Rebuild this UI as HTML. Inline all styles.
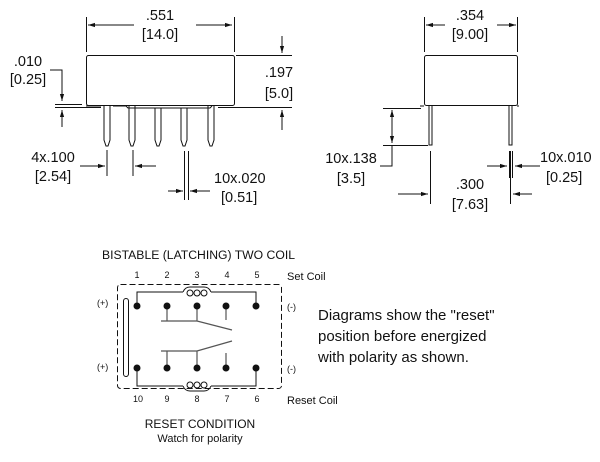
<!DOCTYPE html>
<html><head><meta charset="utf-8"><style>
html,body{margin:0;padding:0;background:#fff;width:600px;height:462px;overflow:hidden}
svg{display:block}
text{font-family:"Liberation Sans",Arial,sans-serif;fill:#111}
</style></head><body>
<svg width="600" height="462" viewBox="0 0 600 462" xmlns="http://www.w3.org/2000/svg">
<defs>
<marker id="a" viewBox="0 0 10 10" refX="10" refY="5" markerWidth="7" markerHeight="7" orient="auto-start-reverse"><path d="M0,2 L10,5 L0,8z" fill="#111"/></marker>
</defs>
<g stroke="#111" stroke-width="1" fill="none">
<rect x="86.5" y="55.5" width="148" height="50" rx="2"/>
<path d="M86 106 H101 M113 106 H126 L128 108 H210 L212 106"/>
<path d="M104 106 V140 L106 146 H108 L110 140 V106"/>
<path d="M129 106 V140 L131 146 H133 L135 140 V106"/>
<path d="M155 108 V140 L157 146 H159 L161 140 V108"/>
<path d="M181 108 V140 L183 146 H185 L187 140 V108"/>
<path d="M208 106 V140 L210 146 H212 L214 140 V106"/>
<path d="M86.5 17 V52 M234.5 17 V52"/>
<path d="M134 25 H88" marker-end="url(#a)"/>
<path d="M196 25 H232" marker-end="url(#a)"/>
<path d="M236 55.5 H292 M218 107.5 H292"/>
<path d="M282 36 V53" marker-end="url(#a)"/>
<path d="M282 130 V110" marker-end="url(#a)"/>
<path d="M50 70 H62 V101" marker-end="url(#a)"/>
<path d="M55 104.5 H82 M55 107.5 H101"/>
<path d="M62 127 V110" marker-end="url(#a)"/>
<path d="M107 150 V176 M133 150 V176"/>
<path d="M80 166 H105" marker-end="url(#a)"/>
<path d="M156 166 H135" marker-end="url(#a)"/>
<path d="M184.5 151 V200 M188.5 151 V200"/>
<path d="M168 191 H183" marker-end="url(#a)"/>
<path d="M210 191 H190" marker-end="url(#a)"/>
<rect x="424.5" y="55.5" width="93" height="50" rx="2"/>
<path d="M420 106 H424 M517 106 H519"/>
<path d="M429 106 V145 H432 V106 M509 106 V145 H512 V106"/>
<path d="M424.5 17 V52 M517.5 17 V52"/>
<path d="M445 25 H426" marker-end="url(#a)"/>
<path d="M497 25 H516" marker-end="url(#a)"/>
<path d="M383 108.5 H421 M383 145.5 H428"/>
<path d="M392 110 V143" marker-start="url(#a)" marker-end="url(#a)"/>
<path d="M392 145 V166 H380"/>
<path d="M430.5 151 V204 M510.5 151 V204"/>
<path d="M398 194 H428" marker-end="url(#a)"/>
<path d="M532 194 H513" marker-end="url(#a)"/>
<path d="M509.5 151 V178 M512.5 151 V178"/>
<path d="M487 166 H507" marker-end="url(#a)"/>
<path d="M540 166 H515" marker-end="url(#a)"/>
</g>
<g font-size="14.5">
<text x="160" y="20" text-anchor="middle">.551</text>
<text x="160" y="39" text-anchor="middle">[14.0]</text>
<text x="279" y="77" text-anchor="middle">.197</text>
<text x="279" y="98" text-anchor="middle">[5.0]</text>
<text x="28" y="66" text-anchor="middle">.010</text>
<text x="28" y="84" text-anchor="middle">[0.25]</text>
<text x="53" y="162" text-anchor="middle">4x.100</text>
<text x="53" y="181" text-anchor="middle">[2.54]</text>
<text x="214" y="183">10x.020</text>
<text x="221" y="202">[0.51]</text>
<text x="470" y="20" text-anchor="middle">.354</text>
<text x="470" y="39" text-anchor="middle">[9.00]</text>
<text x="351" y="163" text-anchor="middle">10x.138</text>
<text x="351" y="183" text-anchor="middle">[3.5]</text>
<text x="470" y="189" text-anchor="middle">.300</text>
<text x="470" y="209" text-anchor="middle">[7.63]</text>
<text x="540" y="162">10x.010</text>
<text x="546" y="182">[0.25]</text>
</g>
<text x="102" y="259" font-size="12.2">BISTABLE (LATCHING) TWO COIL</text>
<g font-size="9" text-anchor="middle">
<text x="137" y="278">1</text><text x="167" y="278">2</text><text x="197" y="278">3</text><text x="227" y="278">4</text><text x="257" y="278">5</text>
<text x="138" y="402">10</text><text x="167" y="402">9</text><text x="197" y="402">8</text><text x="227" y="402">7</text><text x="257" y="402">6</text>
</g>
<text x="287" y="280" font-size="11">Set Coil</text>
<text x="287" y="404" font-size="11">Reset Coil</text>
<g font-size="9"><text x="97" y="306">(+)</text><text x="97" y="370">(+)</text><text x="287" y="310">(-)</text><text x="287" y="372">(-)</text></g>
<g stroke="#111" fill="none">
<rect x="117.5" y="284.5" width="164" height="104" rx="3" stroke-dasharray="6,3"/>
<rect x="123.5" y="298.5" width="5" height="78" rx="2.5"/>
<path d="M137 306 V292 H183 M211 292 H256 V306"/>
<path d="M183 292 Q185 287 190 287 H204 Q209 287 211 292"/>
<circle cx="190" cy="293" r="3"/><circle cx="197" cy="293" r="3"/><circle cx="204" cy="293" r="3"/>
<path d="M137 368 V386 H183 M211 386 H256 V368"/>
<path d="M183 386 Q185 391 190 391 H204 Q209 391 211 386"/>
<circle cx="190" cy="385" r="3"/><circle cx="197" cy="385" r="3"/><circle cx="204" cy="385" r="3"/>
<g stroke="#555" stroke-width="1.2">
<path d="M167 306 V321 M197 306 V321 M161 321 H197 L232 330 M226 306 V320"/>
<path d="M167 368 V351 M197 368 V351 M161 351 H197 L232 341 M226 368 V353"/>
</g>
</g>
<g fill="#111">
<circle cx="137" cy="306" r="3.5"/><circle cx="167" cy="306" r="3.5"/><circle cx="197" cy="306" r="3.5"/><circle cx="226" cy="306" r="3.5"/><circle cx="256" cy="306" r="3.5"/>
<circle cx="137" cy="368" r="3.5"/><circle cx="167" cy="368" r="3.5"/><circle cx="197" cy="368" r="3.5"/><circle cx="226" cy="368" r="3.5"/><circle cx="256" cy="368" r="3.5"/>
</g>
<text x="200" y="428" font-size="12" text-anchor="middle">RESET CONDITION</text>
<text x="200" y="442" font-size="11" text-anchor="middle">Watch for polarity</text>
<g font-size="15"><text x="318" y="320">Diagrams show the "reset"</text><text x="318" y="341">position before energized</text><text x="318" y="362">with polarity as shown.</text></g>
</svg>
</body></html>
